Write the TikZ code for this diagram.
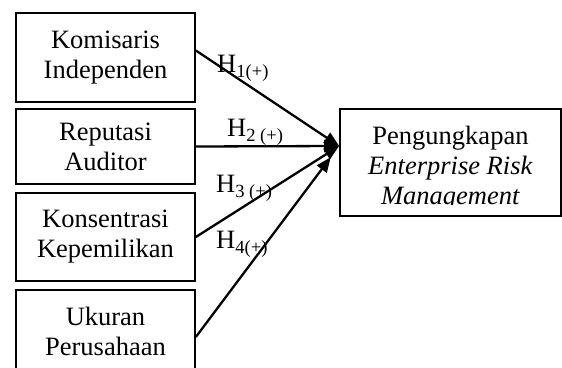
\documentclass[tikz,border=0pt]{standalone}
\usepackage{fontspec}
\setmainfont{Liberation Serif}
\usetikzlibrary{arrows.meta}

\begin{document}
\begin{tikzpicture}[x=1pt,y=1pt,
    box/.style={draw,line width=1.7pt,minimum width=179pt,align=center,inner sep=0pt,
      font=\fontsize{26.5}{30}\selectfont},
    arr/.style={line width=2.3pt,-{Triangle[length=15pt,width=12pt]}},
    hyp/.style={anchor=base west,inner sep=0pt,font=\fontsize{26.5}{30}\selectfont}]
    \useasboundingbox (0,0) rectangle (562,367);

    \node[box,minimum height=89pt] (komisaris)   at (105.5,309.5) {Komisaris\\Independen};
    \node[box,minimum height=75pt] (reputasi)    at (105.5,220.5) {Reputasi\\Auditor};
    \node[box,minimum height=88pt] (konsentrasi) at (105.5,130)   {Konsentrasi\\Kepemilikan};
    \node[box,minimum height=82pt] (ukuran)      at (105.5,36)    {Ukuran\\Perusahaan};
    \node[box,minimum width=221pt,minimum height=107pt] (erm) at (450.5,204.5) {};
    \begin{scope}
      \clip (340,162) rectangle (561,258);
      \node[box,draw=none,anchor=north] (erm-text) at (450.5,242)
        {Pengungkapan\\\textit{Enterprise Risk}\\\textit{Management}};
    \end{scope}

    \coordinate (hub) at ([yshift=16.5pt]erm.west);

    \draw[arr] ([yshift=7pt]komisaris.east) -- (hub);
    \draw[arr] (reputasi.east) -- (hub);
    \draw[arr] (konsentrasi.east) -- (hub);
    \draw[arr,shorten >=14pt] ([yshift=-6pt]ukuran.east) -- (hub);

    \node[hyp] (h1) at (217,294) {H\textsubscript{1(+)}};
    \node[hyp] (h2) at (227,230) {H\textsubscript{2 (+)}};
    \node[hyp] (h3) at (216,174) {H\textsubscript{3 (+)}};
    \node[hyp] (h4) at (216,118) {H\textsubscript{4(+)}};
  \end{tikzpicture}
\end{document}
